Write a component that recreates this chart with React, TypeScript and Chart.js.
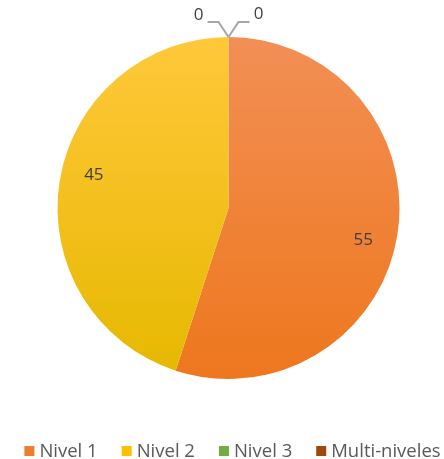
import React, { useEffect, useRef } from "react";
import { Chart, registerables } from "chart.js";

Chart.register(...registerables);

const categories = ["Nivel 1", "Nivel 2", "Nivel 3", "Multi-niveles"];
const values = [55, 45, 0, 0];
const topColors = ["#F28F55", "#FFC83A", "#70AD47", "#9E480E"];
const bottomColors = ["#EE771E", "#E6B800", "#5E9A3A", "#8A3D0B"];
const legendColors = ["#ED7D31", "#FFC000", "#70AD47", "#9E480E"];

const FONT = "'Open Sans', 'Noto Sans', sans-serif";

const labelPlugin = {
  id: "pieLabels",
  afterDatasetsDraw(chart: any) {
    const ctx = chart.ctx;
    const meta = chart.getDatasetMeta(0);
    ctx.save();
    ctx.font = `17px ${FONT}`;
    ctx.fillStyle = "#404040";
    ctx.textAlign = "center";
    ctx.textBaseline = "middle";
    let zeroIdx = 0;
    meta.data.forEach((arc: any, i: number) => {
      const v = values[i];
      const { x, y, startAngle, endAngle, outerRadius } = arc.getProps(
        ["x", "y", "startAngle", "endAngle", "outerRadius"],
        true
      );
      const mid = (startAngle + endAngle) / 2;
      if (v > 0) {
        const r = outerRadius * 0.81;
        const a = mid + 0.08;
        ctx.fillText(String(v), x + Math.cos(a) * r, y + Math.sin(a) * r);
      } else {
        const side = zeroIdx === 0 ? -1 : 1;
        zeroIdx++;
        const px = x + Math.cos(mid) * outerRadius;
        const py = y + Math.sin(mid) * outerRadius;
        const ex = px + side * 10;
        const ey = py - 15;
        const hx = ex + side * 11;
        ctx.strokeStyle = "#A6A6A6";
        ctx.lineWidth = 2;
        ctx.beginPath();
        ctx.moveTo(px, py);
        ctx.lineTo(ex, ey);
        ctx.lineTo(hx, ey);
        ctx.stroke();
        ctx.fillText(String(v), hx + side * 9, ey - 7 + (side > 0 ? -1 : 0));
      }
    });
    ctx.restore();
  },
};

const legendPlugin = {
  id: "bottomLegend",
  afterDraw(chart: any) {
    const ctx = chart.ctx;
    ctx.save();
    ctx.font = `18.5px ${FONT}`;
    ctx.textBaseline = "alphabetic";
    ctx.textAlign = "left";
    const box = 10;
    const boxGap = 5;
    const itemGap = 24;
    const widths = categories.map((c) => box + boxGap + ctx.measureText(c).width);
    const total = widths.reduce((a, b) => a + b, 0) + itemGap * (categories.length - 1);
    let xPos = 232.5 - total / 2;
    const baseline = 457;
    categories.forEach((c, i) => {
      ctx.fillStyle = legendColors[i];
      ctx.fillRect(xPos, baseline - 11, box, box);
      ctx.fillStyle = "#595959";
      ctx.fillText(c, xPos + box + boxGap, baseline);
      xPos += widths[i] + itemGap;
    });
    ctx.restore();
  },
};

export default function App() {
  const ref = useRef<HTMLCanvasElement | null>(null);
  useEffect(() => {
    document.body.style.margin = "0";
    const canvas = ref.current!;
    const chart = new Chart(canvas, {
      type: "pie",
      data: {
        labels: categories,
        datasets: [
          {
            data: values,
            backgroundColor: (c: any) => {
              const area = c.chart.chartArea;
              if (!area) return legendColors[c.dataIndex];
              const g = c.chart.ctx.createLinearGradient(0, area.top, 0, area.bottom);
              g.addColorStop(0, topColors[c.dataIndex]);
              g.addColorStop(1, bottomColors[c.dataIndex]);
              return g;
            },
            borderWidth: 0,
          },
        ],
      },
      options: {
        animation: false,
        responsive: false,
        layout: { padding: { top: 37, left: 57, right: 44, bottom: 80 } },
        plugins: {
          tooltip: { enabled: false },
          legend: { display: false },
        },
      },
      plugins: [labelPlugin, legendPlugin],
    });
    return () => chart.destroy();
  }, []);
  return <canvas ref={ref} width={444} height={459} style={{ display: "block" }} />;
}
